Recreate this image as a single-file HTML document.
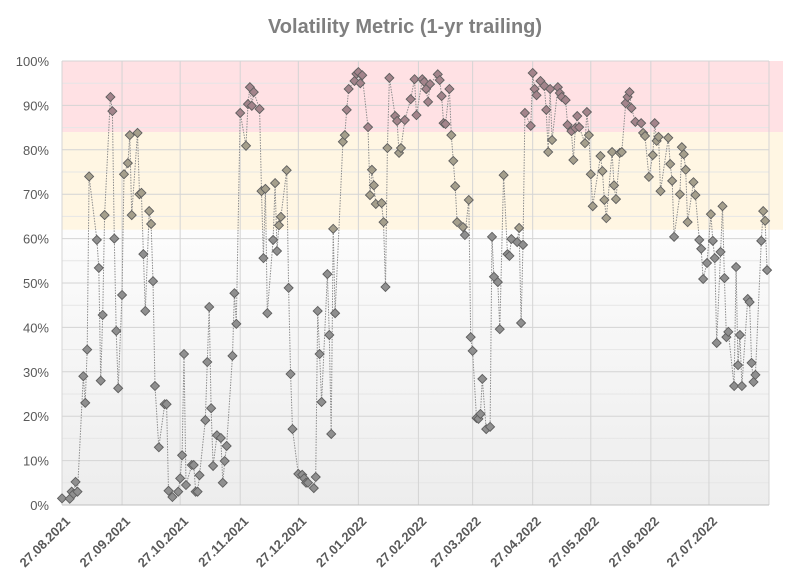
<!DOCTYPE html>
<html><head><meta charset="utf-8"><title>Volatility Metric</title>
<style>
html,body{margin:0;padding:0;background:#fff;}
svg{display:block;font-family:"Liberation Sans",sans-serif;}
</style></head>
<body>
<svg id="chart" width="791" height="585" viewBox="0 0 791 585" xmlns="http://www.w3.org/2000/svg">
<defs>
<linearGradient id="bgGrad" x1="0" y1="0" x2="0" y2="1">
<stop offset="0" stop-color="#ffffff"/><stop offset="0.35" stop-color="#fdfdfd"/><stop offset="1" stop-color="#ededed"/>
</linearGradient>
</defs>
<text x="405" y="33" text-anchor="middle" font-size="20" font-weight="bold" fill="#7f7f7f">Volatility Metric (1-yr trailing)</text>
<g id="plot"></g>
</svg>
<script>
const startDate = [2021, 8, 27];
const dayOffsets = [0,4,5,6,7,8,11,12,13,14,18,19,20,21,22,25,26,27,28,29,31,32,34,35,36,39,40,41,42,43,45,46,47,48,50,53,54,55,57,60,61,62,63,64,67,68,69,70,71,74,75,76,77,78,80,82,83,84,85,88,89,90,92,95,96,97,98,99,102,103,104,105,106,109,110,111,112,113,116,117,118,119,122,124,125,126,127,130,131,132,133,134,137,138,139,140,141,145,146,147,148,151,152,153,154,155,158,159,160,161,162,165,166,167,168,169,172,173,174,175,177,180,182,183,186,187,188,189,190,194,195,196,197,198,200,201,202,203,204,207,208,210,211,212,214,215,216,217,219,221,222,223,225,226,228,230,231,232,235,236,237,238,239,242,243,244,245,247,249,250,251,252,253,256,257,258,260,261,263,264,265,266,267,270,271,272,273,274,278,279,280,281,284,285,286,288,289,291,292,293,294,296,299,300,301,303,305,306,307,308,309,313,314,315,316,319,320,321,322,323,326,327,329,330,331,333,335,336,337,338,340,341,342,343,344,347,348,349,350,351,354,355,356,357,358,361,362,363,364];
const values = [1.5,1.4,3,2.5,5.2,3,29,23,35,74,59.7,53.4,28,42.8,65.3,91.9,88.7,60,39.2,26.3,47.3,74.5,77,83.3,65.3,83.8,70,70.3,56.5,43.7,66.2,63.3,50.4,26.8,13,22.7,22.7,3.2,1.8,3,6,11.2,34,4.5,9,9,3,3,6.7,19.1,32.2,44.6,21.8,8.8,15.7,15.1,5,9.9,13.3,33.6,47.7,40.8,88.3,80.9,90.3,94.1,89.9,93,89.2,70.7,55.6,71.2,43.2,59.7,72.5,57.2,63,64.9,75.4,48.9,29.5,17.1,7,6.8,6,5,5,3.8,6.3,43.7,34,23.2,52,38.3,16,62.2,43.2,81.8,83.3,89,93.7,95.5,97.1,97.5,95,96.8,85.1,69.8,75.5,72,67.8,68,63.7,49.1,80.4,96.2,87.6,86.5,79.3,80.4,86.7,91.4,95.9,87.8,95.9,95.3,93.7,90.8,94.8,97,95.7,92.1,86,85.8,93.7,83.3,77.5,71.8,63.7,62.6,60.8,68.7,37.8,34.7,19.6,19.4,20.5,28.4,17.1,17.6,60.4,51.4,50.2,39.6,74.3,56.5,56.1,59.9,59.2,62.4,41,58.6,88.3,85.4,97.3,93.7,92.3,95.5,94.4,89,79.5,93.7,82.2,94.1,92.8,91.9,91.2,85.6,84.2,77.7,84.9,87.6,85.1,81.5,88.5,83.3,74.5,67.3,78.6,75.2,68.7,64.6,79.5,72,68.9,79.3,79.5,90.5,91.9,93,89.4,86.3,86,83.8,83.1,73.9,78.8,86,82,82.9,70.7,82.7,76.8,73,60.4,70,80.6,79,75.5,63.7,72.7,69.8,59.7,57.7,50.9,54.5,65.5,59.5,55.6,36.5,57,67.3,51.1,37.8,39,26.8,53.6,31.5,38.3,26.8,46.4,45.7,32,27.7,29.3,59.5,66.2,64,52.9];
const yTicks = [0,10,20,30,40,50,60,70,80,90,100];
const bandHigh = [84, 100];
const bandMid = [62, 84];
const axisDays = 365;

const NS = "http://www.w3.org/2000/svg";
const L = 62, R = 769, T = 61, B = 505, BANDR = 783;
const xS = d => L + d / axisDays * (R - L);
const yS = v => B - v / 100 * (B - T);
const plot = document.getElementById('plot');
function mk(tag, attrs, parent) {
  const e = document.createElementNS(NS, tag);
  for (const k in attrs) e.setAttribute(k, attrs[k]);
  (parent || plot).appendChild(e);
  return e;
}
const bg = mk('rect', {x: L, y: T, width: R - L, height: B - T, fill: 'url(#bgGrad)'});


const b1 = mk('rect', {x: L, y: yS(bandHigh[1]), width: BANDR - L, height: yS(bandHigh[0]) - yS(bandHigh[1]), fill: '#ffe1e4'});


const b2 = mk('rect', {x: L, y: yS(bandMid[1]), width: BANDR - L, height: yS(bandMid[0]) - yS(bandMid[1]), fill: '#fff6e3'});


for (let v = 5; v < 100; v += 10) {
  const g = mk('line', {x1: L, x2: R, y1: yS(v), y2: yS(v), stroke: '#e6e6e6', 'stroke-width': 1});
  
  
}
yTicks.forEach(v => {
  const g = mk('line', {x1: L, x2: R, y1: yS(v), y2: yS(v), stroke: '#d4d4d4', 'stroke-width': 1});
  
  
  const t = mk('text', {x: L - 13, y: yS(v) + 5, 'text-anchor': 'end', 'font-size': 13, fill: '#595959'});
  t.textContent = v + '%';
  
  
});
const s = new Date(Date.UTC(startDate[0], startDate[1] - 1, startDate[2]));
for (let m = 0; m <= 12; m++) {
  const d = new Date(Date.UTC(startDate[0], startDate[1] - 1 + m, startDate[2]));
  const off = Math.round((d - s) / 86400000);
  if (off > axisDays) break;
  const x = xS(off);
  const g = mk('line', {x1: x, x2: x, y1: T, y2: B, stroke: '#d4d4d4', 'stroke-width': 1});
  
  
  if (m < 12) {
    const lbl = String(d.getUTCDate()).padStart(2, '0') + '.' + String(d.getUTCMonth() + 1).padStart(2, '0') + '.' + d.getUTCFullYear();
    const ax0 = x + 9, ay0 = B + 17;
    const t = mk('text', {x: ax0, y: ay0, 'text-anchor': 'end', 'font-size': 13, 'font-weight': 'bold', fill: '#595959', transform: 'rotate(-45 ' + ax0 + ' ' + ay0 + ')'});
    t.textContent = lbl;
    
    
  }
}
const ax = mk('line', {x1: L, x2: R, y1: B, y2: B, stroke: '#bfbfbf', 'stroke-width': 1});


const pts = dayOffsets.map((d, i) => xS(d).toFixed(1) + ',' + yS(values[i]).toFixed(1)).join(' ');
const ln = mk('polyline', {points: pts, fill: 'none', stroke: '#8c8c8c', 'stroke-width': 1, 'stroke-dasharray': '1.5 1.2'});


dayOffsets.forEach((d, i) => {
  const x = xS(d), y = yS(values[i]), r = 4.5;
  const v = values[i];
  const fill = v >= bandHigh[0] ? '#a3848b' : (v >= bandMid[0] ? '#a59f8c' : '#8f8f8f');
  const p = mk('polygon', {points: `${x},${y - r} ${x + r},${y} ${x},${y + r} ${x - r},${y}`, fill: fill, stroke: '#5e5e5e', 'stroke-width': 0.9});
  
  
});
</script>
</body></html>
